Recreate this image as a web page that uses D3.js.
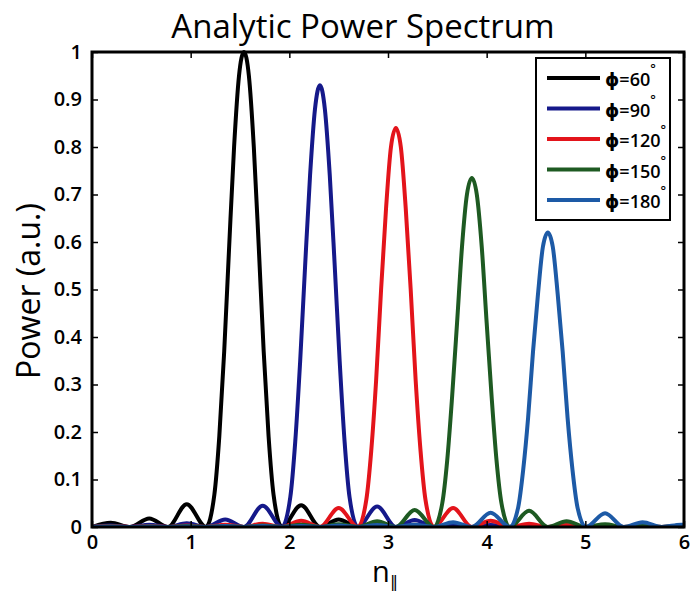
<!DOCTYPE html>
<html>
<head>
<meta charset="utf-8">
<script src="https://cdn.jsdelivr.net/npm/d3@7"></script>
<style>
body { margin: 0; background: #fff; }
text { font-family: "Open Sans", "DejaVu Sans", sans-serif; fill: #000; }
</style>
</head>
<body>
<svg id="chart" width="692" height="593"></svg>
<script>
var phiLabels = ['60', '90', '120', '150', '180'];
var xTicks = [0, 1, 2, 3, 4, 5, 6];
var yTicks = [0, 0.1, 0.2, 0.3, 0.4, 0.5, 0.6, 0.7, 0.8, 0.9, 1];

// n of the nulls and of the side-lobe crests (same for every curve)
var nullN  = [0, 0.385, 0.77, 1.155, 1.54, 1.925, 2.31, 2.695, 3.08, 3.465, 3.85, 4.235, 4.62, 5.005, 5.39, 5.775];
var crestN = [0.19, 0.58, 0.96, 1.35, 1.73, 2.12, 2.50, 2.89, 3.27, 3.66, 4.04, 4.43, 4.81, 5.20, 5.58, 5.97];

// main lobes
var main60N  = [1.155, 1.24, 1.29, 1.34, 1.39, 1.44, 1.49, 1.54, 1.59, 1.64, 1.69, 1.74, 1.79, 1.84, 1.925];
var main60P  = [0, 0.068, 0.19, 0.37, 0.59, 0.80, 0.95, 1.0, 0.95, 0.80, 0.59, 0.37, 0.19, 0.068, 0];
var main90N  = [1.925, 2.01, 2.06, 2.11, 2.16, 2.21, 2.26, 2.31, 2.36, 2.41, 2.46, 2.51, 2.56, 2.61, 2.695];
var main90P  = [0, 0.063, 0.18, 0.35, 0.55, 0.74, 0.88, 0.93, 0.88, 0.74, 0.55, 0.35, 0.18, 0.063, 0];
var main120N = [2.695, 2.78, 2.83, 2.88, 2.93, 2.98, 3.03, 3.08, 3.13, 3.18, 3.23, 3.28, 3.33, 3.38, 3.465];
var main120P = [0, 0.057, 0.16, 0.31, 0.50, 0.67, 0.80, 0.84, 0.80, 0.67, 0.50, 0.31, 0.16, 0.057, 0];
var main150N = [3.465, 3.55, 3.60, 3.65, 3.70, 3.75, 3.80, 3.85, 3.90, 3.95, 4.00, 4.05, 4.10, 4.15, 4.235];
var main150P = [0, 0.05, 0.14, 0.275, 0.43, 0.59, 0.70, 0.735, 0.70, 0.59, 0.43, 0.275, 0.14, 0.05, 0];
var main180N = [4.235, 4.32, 4.37, 4.42, 4.47, 4.52, 4.57, 4.62, 4.67, 4.72, 4.77, 4.82, 4.87, 4.92, 5.005];
var main180P = [0, 0.042, 0.12, 0.23, 0.37, 0.49, 0.59, 0.62, 0.59, 0.49, 0.37, 0.23, 0.12, 0.042, 0];

// side-lobe crest heights, null inside the main lobe
var side60P  = [0.009, 0.018, 0.048, null, null, 0.046, 0.016, 0.008, 0.005, 0.003, 0.002, 0.002, 0.001, 0.001, 0.001, 0.001];
var side90P  = [0.003, 0.005, 0.008, 0.016, 0.045, null, null, 0.043, 0.015, 0.007, 0.004, 0.003, 0.002, 0.002, 0.001, 0.001];
var side120P = [0.002, 0.002, 0.003, 0.005, 0.007, 0.013, 0.040, null, null, 0.040, 0.013, 0.007, 0.004, 0.003, 0.002, 0.002];
var side150P = [0.001, 0.001, 0.002, 0.002, 0.003, 0.005, 0.006, 0.012, 0.036, null, null, 0.034, 0.012, 0.006, 0.004, 0.003];
var side180P = [0.001, 0.001, 0.001, 0.002, 0.002, 0.002, 0.003, 0.004, 0.005, 0.010, 0.030, null, null, 0.029, 0.010, 0.005];

// value at the right edge, n = 6
var edgeP = [0.001, 0.001, 0.002, 0.003, 0.005];

var colors = ['#000000', '#15198a', '#e3141b', '#1e5a22', '#1d5aa6'];

var mainN = [main60N, main90N, main120N, main150N, main180N],
	mainP = [main60P, main90P, main120P, main150P, main180P],
	sideP = [side60P, side90P, side120P, side150P, side180P];

var svg = d3.select('#chart');

var margin = {left: 92, right: 684, top: 52, bottom: 527};

var x = d3.scaleLinear().domain([0, 6]).range([margin.left, margin.right]),
	y = d3.scaleLinear().domain([0, 1]).range([margin.bottom, margin.top]);

var buildSeries = function(k) {
	var pts = [],
		lo = d3.min(mainN[k]),
		hi = d3.max(mainN[k]);
	nullN.forEach(function(n) {
		if (n < lo || n > hi) pts.push([n, 0]);
	});
	crestN.forEach(function(n, i) {
		if (sideP[k][i] != null) pts.push([n, sideP[k][i]]);
	});
	mainN[k].forEach(function(n, i) {
		pts.push([n, mainP[k][i]]);
	});
	pts.push([6, edgeP[k]]);
	return pts.sort(function(a, b) { return a[0] - b[0]; });
};

svg.append('clipPath').attr('id', 'plotClip')
	.append('rect')
	.attr('x', margin.left).attr('y', margin.top - 3)
	.attr('width', margin.right - margin.left)
	.attr('height', margin.bottom - margin.top + 3);

var line = d3.line()
	.x(function(d) { return x(d[0]); })
	.y(function(d) { return y(d[1]); })
	.curve(d3.curveMonotoneX);

var curves = svg.append('g').attr('clip-path', 'url(#plotClip)');
phiLabels.forEach(function(p, k) {
	curves.append('path')
		.datum(buildSeries(k))
		.attr('d', line)
		.attr('fill', 'none')
		.attr('stroke', colors[k])
		.attr('stroke-width', 4)
		.attr('stroke-linejoin', 'round');
});

// axes, ticks pointing inwards on all four sides
var tick = 6;
var styleAxis = function(g) {
	g.select('.domain').remove();
	g.selectAll('.tick line').attr('stroke', '#000').attr('stroke-width', 1.5);
	g.selectAll('.tick text')
		.style('font-size', '20px')
		.style('font-weight', '600')
		.attr('fill', '#000');
};

svg.append('g')
	.attr('transform', 'translate(0,' + margin.bottom + ')')
	.call(d3.axisBottom(x).tickValues(xTicks).tickSize(-tick).tickPadding(8).tickFormat(d3.format('d')))
	.call(styleAxis);
svg.append('g')
	.attr('transform', 'translate(0,' + margin.top + ')')
	.call(d3.axisTop(x).tickValues(xTicks).tickSize(-tick).tickFormat(''))
	.call(styleAxis);
svg.append('g')
	.attr('transform', 'translate(' + margin.left + ',0)')
	.call(d3.axisLeft(y).tickValues(yTicks).tickSize(-tick).tickPadding(10).tickFormat(function(d) { return String(d); }))
	.call(styleAxis);
svg.append('g')
	.attr('transform', 'translate(' + margin.right + ',0)')
	.call(d3.axisRight(y).tickValues(yTicks).tickSize(-tick).tickFormat(''))
	.call(styleAxis);

svg.append('rect')
	.attr('x', margin.left).attr('y', margin.top)
	.attr('width', margin.right - margin.left)
	.attr('height', margin.bottom - margin.top)
	.attr('fill', 'none')
	.attr('stroke', '#000')
	.attr('stroke-width', 3);

// titles
svg.append('text')
	.attr('x', 363).attr('y', 38)
	.attr('text-anchor', 'middle')
	.style('font-size', '33px')
	.style('font-weight', '500')
	.text('Analytic Power Spectrum');

svg.append('text')
	.attr('transform', 'translate(40,291) rotate(-90)')
	.attr('text-anchor', 'middle')
	.style('font-size', '32px')
	.style('font-weight', '500')
	.text('Power (a.u.)');

var xl = svg.append('text')
	.attr('x', 385).attr('y', 582)
	.attr('text-anchor', 'middle')
	.style('font-size', '29px')
	.style('font-weight', '500');
xl.append('tspan').text('n');
xl.append('tspan').attr('dy', 5).style('font-size', '16px').text('\u2016');

// legend
var leg = svg.append('g');
leg.append('rect')
	.attr('x', 536).attr('y', 58)
	.attr('width', 134).attr('height', 162)
	.attr('fill', '#fff')
	.attr('stroke', '#000')
	.attr('stroke-width', 2);

phiLabels.forEach(function(p, k) {
	var ly = 78 + k * 30.5;
	leg.append('line')
		.attr('x1', 547).attr('x2', 600)
		.attr('y1', ly).attr('y2', ly)
		.attr('stroke', colors[k])
		.attr('stroke-width', 4);
	var t = leg.append('text')
		.attr('x', 605).attr('y', ly + 8)
		.style('font-size', '18px')
		.style('font-weight', '600');
	t.append('tspan').text('\u03d5=' + p);
	t.append('tspan').attr('dx', 0).attr('dy', -13).style('font-size', '13px').text('\u00b0');
});
</script>
</body>
</html>
